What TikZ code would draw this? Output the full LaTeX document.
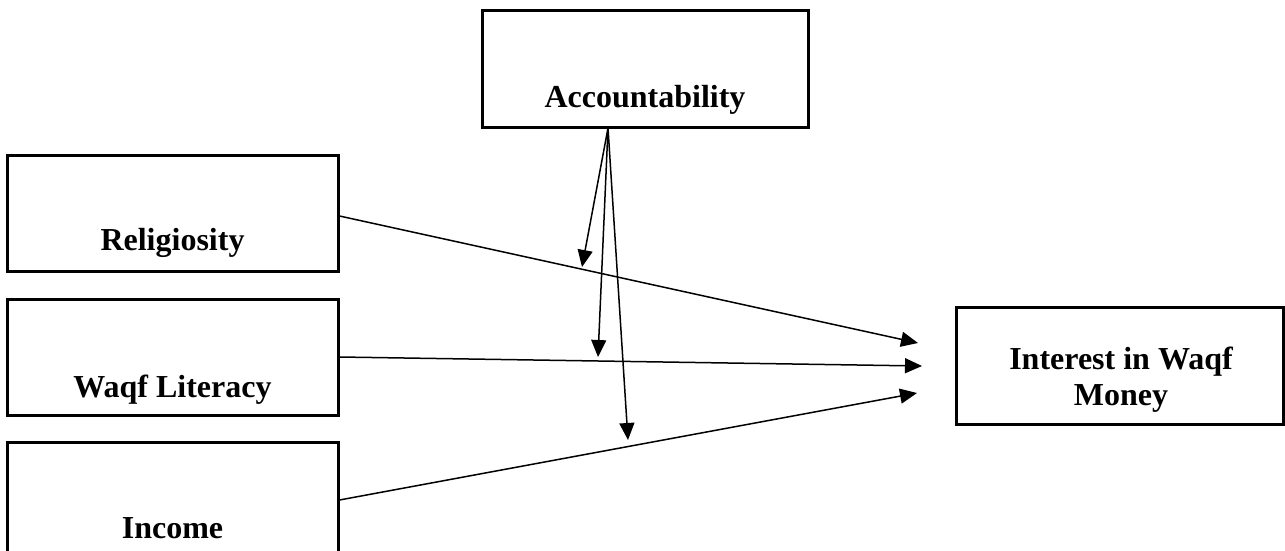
\documentclass[tikz,border=0pt]{standalone}
\usepackage{fontspec}
\setmainfont{Liberation Serif}
\usetikzlibrary{arrows.meta}
\begin{document}
\begin{tikzpicture}[x=1pt,y=-1pt,
  box/.style={draw, line width=3pt, rectangle, inner sep=0pt},
  lab/.style={font=\bfseries\fontsize{32}{36}\selectfont, anchor=base, inner sep=0pt},
  arr/.style={line width=1.5pt, -{Triangle[length=17pt,width=15pt]}}]
\path[use as bounding box] (0,0) rectangle (1285,551);
\clip (0,0) rectangle (1285,551);
% boxes
\node[box, minimum width=326pt, minimum height=116pt] (acc) at (645,69) {};
\node[box, minimum width=331pt, minimum height=116pt] (rel) at (172.5,213) {};
\node[box, minimum width=331pt, minimum height=116pt] (waqf) at (172.5,357) {};
\node[box, minimum width=331pt, minimum height=116pt] (inc) at (172.5,500) {};
\node[box, minimum width=327pt, minimum height=117pt] (int) at (1119.5,365.5) {};
% labels
\node[lab] (accT) at (645,107) {Accountability};
\node[lab] (relT) at (172.5,250) {Religiosity};
\node[lab] (waqfT) at (172.5,397) {Waqf Literacy};
\node[lab] (incT) at (172.5,538) {Income};
\node[lab] (intT1) at (1121,369) {Interest in Waqf};
\node[lab] (intT2) at (1121,405) {Money};
% free ends
\coordinate (t1) at (918,343);
\coordinate (t2) at (922,366);
\coordinate (t3) at (917,393);
\coordinate (ms) at (608,128);
\coordinate (m1) at (582,267);
\coordinate (m2) at (598,357);
\coordinate (m3) at (628,440);
% connectors
\draw[arr] ([yshift=-3pt]rel.east) -- (t1);
\draw[arr] (waqf.east) -- (t2);
\draw[arr] (inc.east) -- (t3);
\draw[arr] (ms) -- (m1);
\draw[arr] (ms) -- (m2);
\draw[arr] (ms) -- (m3);
\end{tikzpicture}
\end{document}
